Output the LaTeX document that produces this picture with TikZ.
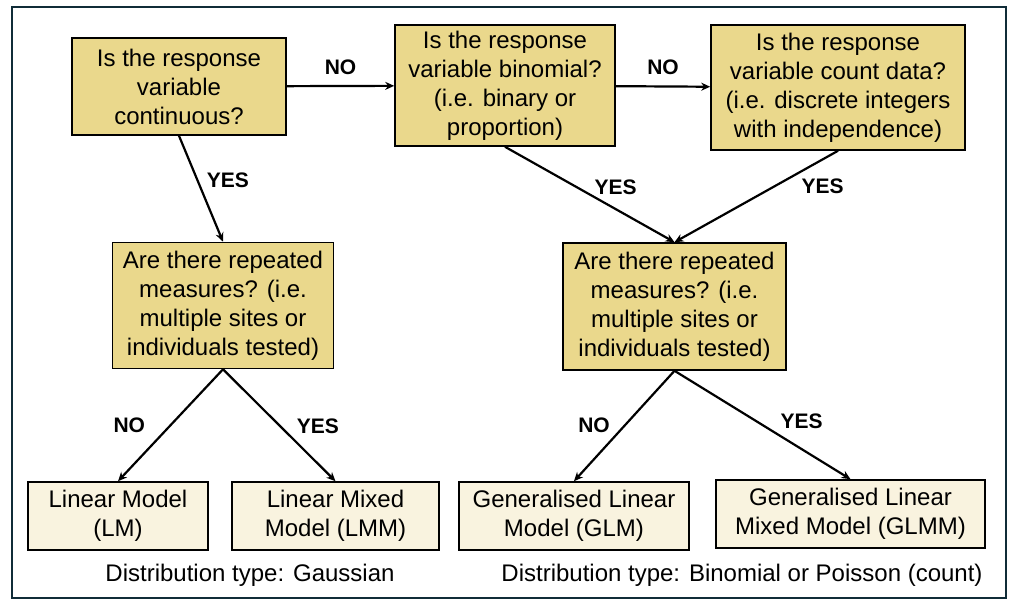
\documentclass[tikz,border=0pt]{standalone}
\usepackage{fontspec}
\setmainfont{Liberation Sans}
\usetikzlibrary{positioning, arrows.meta}
\definecolor{qgold}{RGB}{234,216,140}
\definecolor{mcream}{RGB}{249,243,223}
\definecolor{framec}{RGB}{16,44,56}
\tikzstyle{q} = [draw, fill=qgold, line width=1.6pt, align=center, inner sep=0pt, font=\fontsize{24}{29}\selectfont]
\tikzstyle{m} = [draw, fill=mcream, line width=1.6pt, align=center, inner sep=0pt, minimum height=68pt, font=\fontsize{24}{29}\selectfont]
\tikzstyle{lbl} = [font=\fontsize{21}{23}\selectfont\bfseries]
\tikzstyle{dist} = [font=\fontsize{24}{29}\selectfont]
\tikzstyle{flow} = [draw, ->, line width=2.2pt]

\begin{document}
\begin{tikzpicture}[x=1pt, y=-1pt, >={Stealth[length=9pt, width=8pt]}]

    \useasboundingbox (0,0) rectangle (1021,613);
    \draw[framec, line width=2pt] (12,7) rectangle (1006,598);

    \node[q, minimum width=214pt, minimum height=97pt] (cont) at (179,86.5)
        {Is the response\\variable\\continuous?};
    \node[q, minimum width=220pt, minimum height=121pt] (binom) at (505,85.5)
        {Is the response\\variable binomial?\\(i.e. binary or\\proportion)};
    \node[q, minimum width=254pt, minimum height=125pt] (count) at (838,87.5)
        {Is the response\\variable count data?\\(i.e. discrete integers\\with independence)};
    \node[q, minimum width=221pt, minimum height=126pt] (repL) at (223,305.5)
        {Are there repeated\\measures? (i.e.\\multiple sites or\\individuals tested)};
    \node[q, minimum width=223pt, minimum height=127pt] (repR) at (674.5,306.5)
        {Are there repeated\\measures? (i.e.\\multiple sites or\\individuals tested)};

    \node[m, minimum width=180pt] (lm) at (118,516) {Linear Model\\(LM)};
    \node[m, minimum width=207pt] (lmm) at (335.5,516) {Linear Mixed\\Model (LMM)};
    \node[m, minimum width=230pt] (glm) at (574,516) {Generalised Linear\\Model (GLM)};
    \node[m, minimum width=269pt] (glmm) at (850.5,514) {Generalised Linear\\Mixed Model (GLMM)};

    \node[dist] (gauss) at (250,575) {Distribution type: Gaussian};
    \node[dist] (binpois) at (742,575) {Distribution type: Binomial or Poisson (count)};

    \path
        (cont) edge[flow] node[lbl, above=7pt] {NO} (binom)
        (binom) edge[flow] node[lbl, above=7pt] {NO} (count)
        (cont.south) edge[flow] node[lbl, pos=.42, right=5pt] {YES} (repL.north)
        (binom.south) edge[flow] node[lbl, pos=.42, right=14pt] {YES} (repR.north)
        (count.south) edge[flow] node[lbl, pos=.39, right=23pt] {YES} (repR.north)
        (repL.south) edge[flow] node[lbl, pos=.5, left=21pt] {NO} (lm.north)
        (repL.south) edge[flow] node[lbl, pos=.51, right=12pt] {YES} (lmm.north)
        (repR.south) edge[flow] node[lbl, pos=.49, left=11pt] {NO} (glm.north)
        (repR.south) edge[flow] node[lbl, pos=.47, right=19pt] {YES} (glmm.north)
    ;

\end{tikzpicture}
\end{document}
